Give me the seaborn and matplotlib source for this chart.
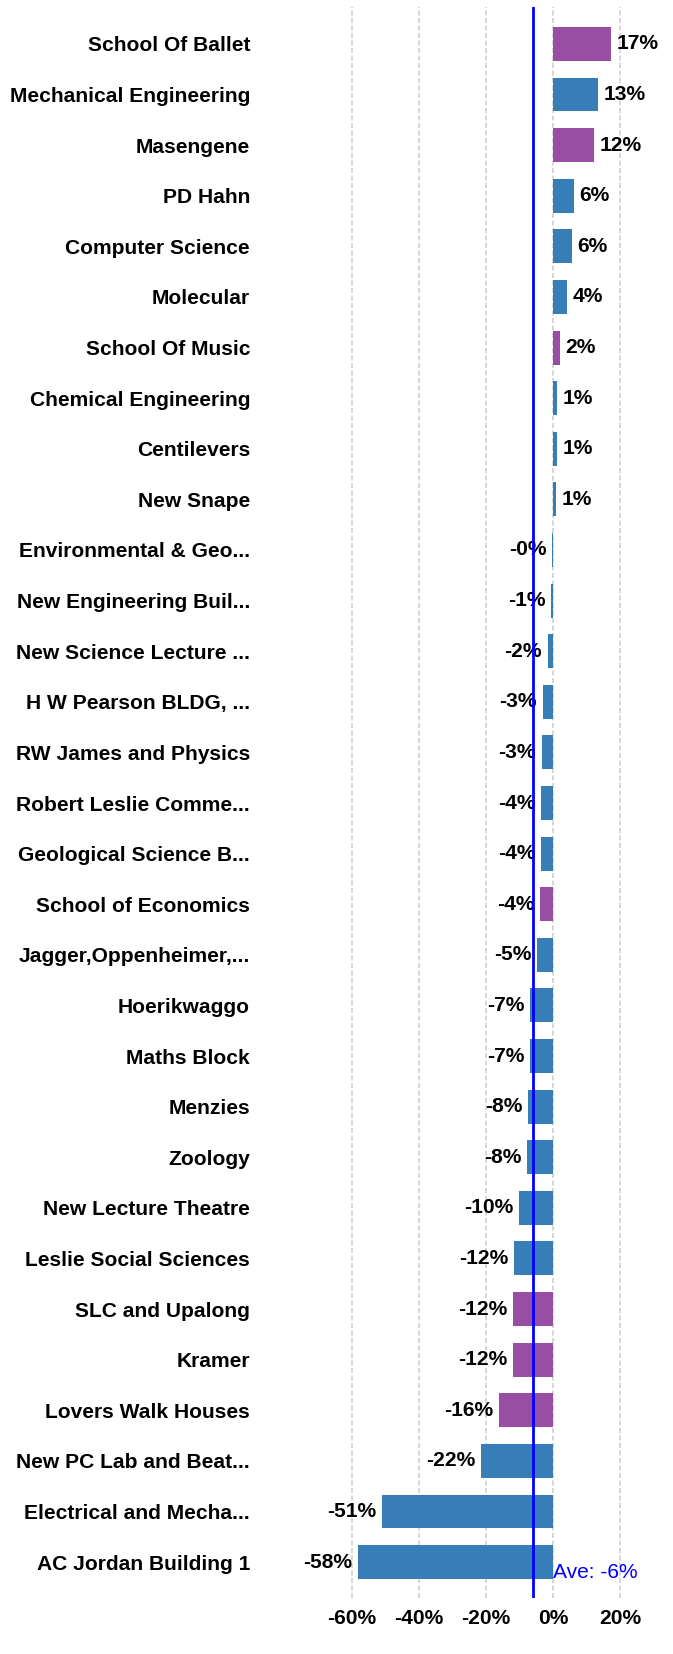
import pandas as pd
import seaborn as sns
import matplotlib.pyplot as plt

# Donnees (variation en %)
buildings = [
    "School Of Ballet", "Mechanical Engineering", "Masengene", "PD Hahn",
    "Computer Science", "Molecular", "School Of Music", "Chemical Engineering",
    "Centilevers", "New Snape", "Environmental & Geo...", "New Engineering Buil...",
    "New Science Lecture ...", "H W Pearson BLDG, ...", "RW James and Physics",
    "Robert Leslie Comme...", "Geological Science B...", "School of Economics",
    "Jagger,Oppenheimer,...", "Hoerikwaggo", "Maths Block", "Menzies", "Zoology",
    "New Lecture Theatre", "Leslie Social Sciences", "SLC and Upalong", "Kramer",
    "Lovers Walk Houses", "New PC Lab and Beat...", "Electrical and Mecha...",
    "AC Jordan Building 1",
]
change_pct = [
    17.4, 13.4, 12.2, 6.2, 5.6, 4.1, 2.0, 1.2, 1.2, 0.8,
    -0.2, -0.6, -1.6, -3.1, -3.4, -3.6, -3.6, -3.9, -4.8, -6.9,
    -6.9, -7.5, -7.8, -10.1, -11.6, -12.0, -12.0, -16.1, -21.5, -51.0,
    -58.2,
]
groups = [
    "res", "acad", "res", "acad", "acad", "acad", "res", "acad", "acad", "acad",
    "acad", "acad", "acad", "acad", "acad", "acad", "acad", "res", "acad", "acad",
    "acad", "acad", "acad", "acad", "acad", "res", "res", "res", "acad", "acad",
    "acad",
]
average = -6.0
x_ticks = [-60, -40, -20, 0, 20]

df = pd.DataFrame({"building": buildings, "change": change_pct, "group": groups})

sns.set_style("white")
plt.rcParams["font.family"] = ["Liberation Sans", "DejaVu Sans"]
plt.rcParams["text.color"] = "black"
plt.rcParams["xtick.labelcolor"] = "black"
plt.rcParams["ytick.labelcolor"] = "black"

fs = 15.1

fig = plt.figure(figsize=(6.73, 16.54), dpi=100)
ax = fig.add_axes([255 / 673, 1 - 1598 / 1654, 395 / 673, 1591 / 1654])

sns.barplot(data=df, x="change", y="building", hue="group", orient="h",
            palette={"acad": "#377eb8", "res": "#984ea3"}, dodge=False,
            width=0.67, legend=False, saturation=1, linewidth=0, ax=ax, zorder=2)

# etiquettes des barres
for cont in ax.containers:
    ax.bar_label(cont, fmt="%.0f%%", padding=4, fontsize=fs, fontweight="bold",
                 color="black")

# ligne de moyenne
ax.axvline(average, color="#0000ff", lw=2, zorder=3)
ax.text(0, 30.2, f"Ave: {average:.0f}%", color="#0000ff", fontsize=fs,
        va="center", ha="left")

ax.set_xlim(-88.96, 28.95)
ax.set_ylim(30.71, -0.73)
ax.set_xticks(x_ticks)
ax.set_xticklabels([f"{t}%" for t in x_ticks], fontsize=fs, fontweight="bold")
ax.set_xlabel("")
ax.set_ylabel("")
ax.tick_params(axis="y", length=0, pad=3.6, labelsize=fs, labelcolor="black")
ax.tick_params(axis="x", length=2, color="#ff9933", pad=6, labelcolor="black")
for lab in ax.get_yticklabels():
    lab.set_fontweight("bold")

ax.grid(axis="x", color="#d0d0d0", linestyle=(0, (3, 1.5)), lw=1.2, zorder=0)
ax.set_axisbelow(True)
sns.despine(ax=ax, left=True, bottom=True)

fig.savefig("out.png", dpi=100)
